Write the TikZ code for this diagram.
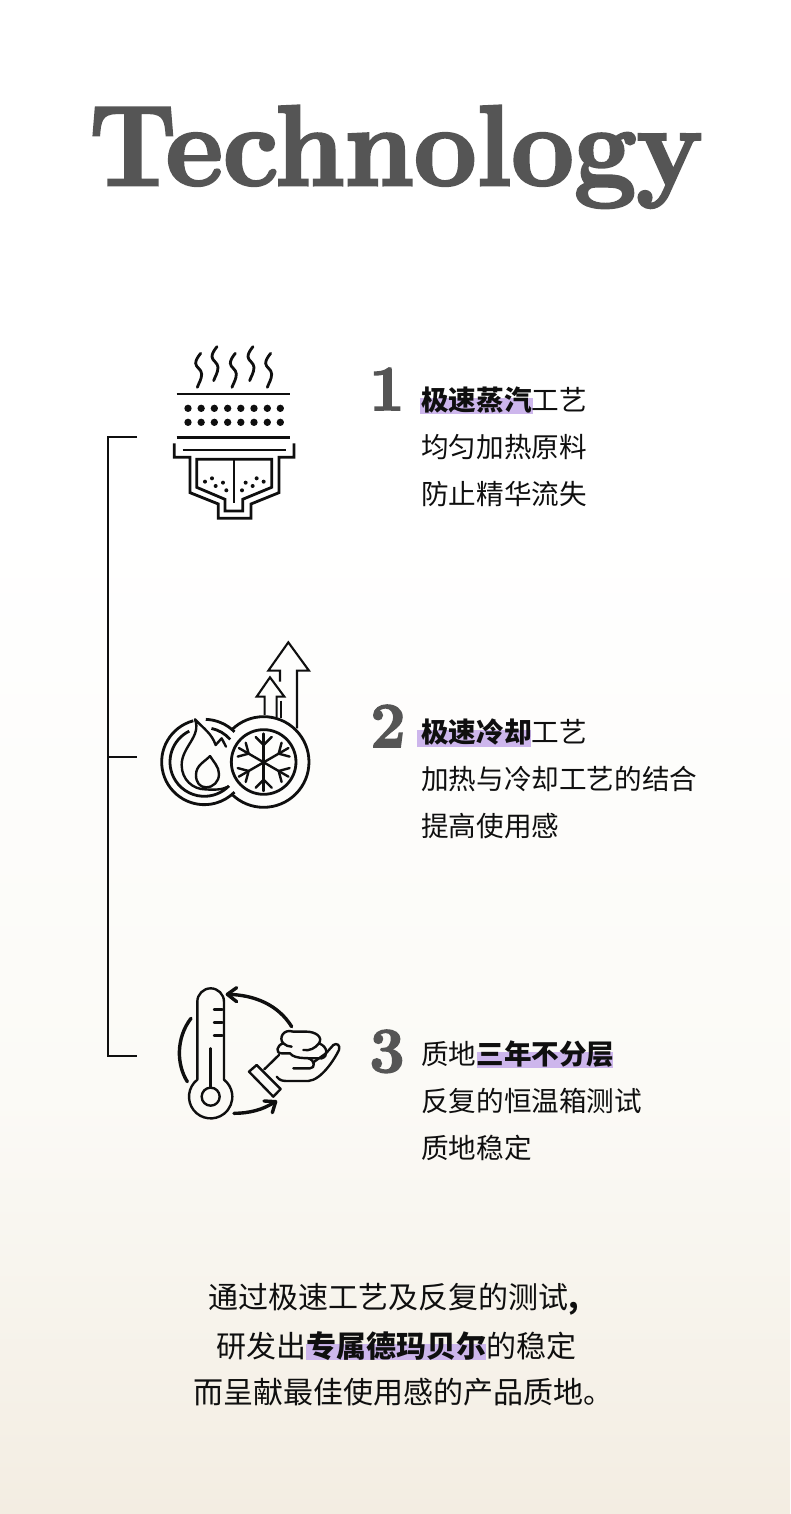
\documentclass[tikz,border=0pt]{standalone}
\usepackage{fontspec}
\usepackage{xcolor}
\setmainfont[BoldFont={Noto Sans CJK SC Black}]{Noto Sans CJK SC}
\newfontfamily\titlefont[FakeBold=2.6, FakeStretch=0.975]{Latin Modern Roman}
\usetikzlibrary{positioning,calc}
\definecolor{hlpurple}{HTML}{CDB6EC}
\definecolor{titlegrey}{HTML}{555555}
\definecolor{inkblack}{HTML}{0F0F0F}
\definecolor{creambot}{HTML}{F3EDE2}
\definecolor{creammid}{HTML}{FBFAF6}
\tikzset{
    txt/.style={inner sep=0pt, font=\fontsize{27.6}{27.6}\selectfont, text=inkblack, text height=24.2pt, text depth=3.3pt, anchor=west},
    txtbelow/.style={txt, below=19pt of #1.south west, anchor=north west},
    endtxt/.style={inner sep=0pt, font=\fontsize{30}{30}\selectfont, text=inkblack, anchor=center},
    numeral/.style={inner sep=0pt, anchor=base, text=titlegrey, font=\titlefont\bfseries\fontsize{64}{64}\selectfont},
    hlbar/.style={fill=hlpurple},
    icon/.style={draw=inkblack, line width=2.8pt, line join=miter},
    thinicon/.style={draw=inkblack, line width=2.4pt, line cap=round, line join=round},
    arrowline/.style={draw=inkblack, line width=3.4pt, line cap=round, line join=round}
}
\begin{document}
\begin{tikzpicture}[x=1pt, y=-1pt]
    \useasboundingbox (0,0) rectangle (790,1514);
    % background
    \fill[white] (0,0) rectangle (790,520);
    \shade[top color=white, bottom color=creammid] (0,520) rectangle (790,1100);
    \shade[top color=creammid, bottom color=creambot] (0,1100) rectangle (790,1514);

    % title
    \node[inner sep=0pt, anchor=base, text=titlegrey, font=\titlefont\bfseries\fontsize{114}{114}\selectfont] (title) at (396,185) {Technology};

    % bracket
    \coordinate (brtop) at (137,437);
    \coordinate (brmid) at (137,757);
    \coordinate (brbot) at (137,1056);
    \draw[line width=2.5pt, inkblack] (brtop) -- (108,437) -- (108,1056) -- (brbot);
    \draw[line width=2.5pt, inkblack] (108,757) -- (brmid);

    % highlights
    \fill[hlbar] (420,398) rectangle (533,414);
    \fill[hlbar] (417,730) rectangle (531,747);
    \fill[hlbar] (477,1052) rectangle (613,1068);
    \fill[hlbar] (306,1344) rectangle (486,1360);

    % numbers
    \node[numeral] (numa) at (387,410) {1};
    \node[numeral] (numb) at (388,747) {2};
    \node[numeral] (numc) at (387,1072) {3};

    % step 1
    \node[txt] (ta) at (421,400) {\textbf{极速蒸汽}工艺};
    \node[txtbelow=ta] (tb) {均匀加热原料};
    \node[txtbelow=tb] (tc) {防止精华流失};
    % step 2
    \node[txt] (td) at (421,732) {\textbf{极速冷却}工艺};
    \node[txtbelow=td] (te) {加热与冷却工艺的结合};
    \node[txtbelow=te] (tf) {提高使用感};
    % step 3
    \node[txt] (tg) at (421,1054) {质地\textbf{三年不分层}};
    \node[txtbelow=tg] (th) {反复的恒温箱测试};
    \node[txtbelow=th] (ti) {质地稳定};

    % closing text
    \node[endtxt] (enda) at (394,1299) {通过极速工艺及反复的测试\textbf{,}};
    \node[endtxt] (endb) at (396,1346) {研发出\textbf{专属德玛贝尔}的稳定};
    \node[endtxt] (endc) at (403,1392) {而呈献最佳使用感的产品质地。};

    % steam icon
    \begin{scope}[shift={(150,330)}, x=0.3333pt, y=-0.3333pt]
        \foreach \sx/\sy in {148/70, 197/50, 252/70, 305/50, 358/70} {
            \draw[inkblack, line width=2.8pt, line cap=round] (\sx+4,\sy) .. controls (\sx-4,\sy+10) and (\sx-11,\sy+20) .. (\sx-11,\sy+30) .. controls (\sx-11,\sy+42) and (\sx+7,\sy+48) .. (\sx+7,\sy+62) .. controls (\sx+7,\sy+78) and (\sx-2,\sy+90) .. (\sx-6,\sy+102);
        }
        \draw[icon] (80,192) -- (420,192);
        \draw[icon] (80,322) -- (420,322);
        \foreach \dx in {114,153.5,193,233,272.5,312,352,391} {
            \fill[inkblack] (\dx,235) circle[radius=11];
            \fill[inkblack] (\dx,277) circle[radius=11];
        }
        \draw[icon] (73,340) -- (73,382) -- (120,382) -- (120,488) -- (205,522) -- (205,565) -- (303,565) -- (303,522) -- (387,488) -- (387,382) -- (432,382) -- (432,340);
        \draw[icon] (98,360) -- (408,360);
        \draw[icon] (140,388) -- (140,472) -- (225,508) -- (225,543) -- (278,543) -- (278,508) -- (365,472) -- (365,388) -- cycle;
        \draw[icon] (252,388) -- (252,518);
        \foreach \dx/\dy in {165/455, 186/445, 197/468, 219/458, 229/481, 341/455, 320/445, 308/468, 287/458, 276/481} {
            \fill[inkblack] (\dx,\dy) circle[radius=6];
        }
    \end{scope}

    % heat and cold icon
    \begin{scope}[shift={(150,630)}, x=0.3333pt, y=-0.3333pt]
        \draw[icon] (341,396) ++(-135:136) arc[start angle=-135, end angle=135, radius=136];
        \draw[icon] (341,396) circle[radius=97];
        \draw[icon] (163,396) ++(255:128) arc[start angle=255, end angle=45, radius=128];
        \draw[icon] (163,396) ++(-88:128) arc[start angle=-88, end angle=-45, radius=128];
        \draw[icon] (163,396) ++(244:103) arc[start angle=244, end angle=44, radius=103];
        \draw[icon] (163,396) ++(-78:103) arc[start angle=-78, end angle=-41, radius=103];
        % flames
        \draw[thinicon] (228,350) -- (215,325) -- (197,345) .. controls (185,310) and (160,295) .. (135,268) .. controls (155,320) and (95,350) .. (95,405) .. controls (95,450) and (130,478) .. (165,478) .. controls (190,480) and (215,480) .. (235,470);
        \draw[thinicon] (180,378) .. controls (165,395) and (138,405) .. (138,435) .. controls (138,458) and (150,472) .. (168,472) .. controls (190,472) and (207,455) .. (207,432) .. controls (207,410) and (190,395) .. (180,378);
        % snowflake
        \foreach \ang in {30,90,150,210,270,330} {
            \draw[thinicon] (341,397) -- ++(\ang:86);
            \draw[thinicon] (341,397) ++(\ang:52) -- ++(\ang+45:34);
            \draw[thinicon] (341,397) ++(\ang:52) -- ++(\ang-45:34);
        }
        % arrows
        \draw[line width=2.1pt, inkblack, line join=miter] (390,155) -- (390,122) -- (355,122) -- (415,37) -- (477,122) -- (441,122) -- (441,295);
        \draw[line width=2.1pt, inkblack, line join=miter] (344,255) -- (344,200) -- (320,200) -- (360,142) -- (403,200) -- (380,200) -- (380,262);
        \draw[line width=2.1pt, inkblack] (392,212) -- (392,265);
    \end{scope}

    % temperature icon
    \begin{scope}[shift={(165,975)}, x=0.3333pt, y=-0.3333pt]
        \draw[thinicon] (177,314) -- (177,80) arc[start angle=0, end angle=-180, radius=40] -- (97,314) arc[start angle=232, end angle=-52, radius=65];
        \draw[thinicon] (137,365) circle[radius=27];
        \draw[thinicon] (137,220) -- (137,338);
        \draw[thinicon] (147,103) -- (172,103);
        \draw[thinicon] (147,143) -- (172,143);
        \draw[thinicon] (147,182) -- (172,182);
        % cycle arrows
        \draw[arrowline] (78,130) .. controls (32,190) and (35,270) .. (67,320);
        \draw[arrowline] (380,155) .. controls (340,90) and (270,60) .. (190,58);
        \draw[arrowline] (215,38) -- (187,58) -- (215,80);
        \draw[arrowline] (207,415) .. controls (250,415) and (295,405) .. (330,380);
        \draw[arrowline] (297,378) -- (332,380) -- (322,413);
        % hand
        \draw[thinicon] (252,290) -- (275,270) -- (347,342) -- (325,365) -- cycle;
        \draw[thinicon] (298,283) -- (342,240);
        \draw[thinicon] (335,305) .. controls (345,318) and (355,318) .. (370,318) -- (430,318) .. controls (470,315) and (510,250) .. (522,225) .. controls (527,210) and (515,203) .. (505,210) -- (483,235);
        \draw[thinicon] (483,235) -- (445,262);
        \draw[thinicon] (385,280) -- (435,280) .. controls (452,280) and (450,255) .. (430,250);
        % cream
        \draw[thinicon] (385,170) .. controls (355,160) and (340,190) .. (355,205) .. controls (335,210) and (330,235) .. (350,235) -- (375,235) .. controls (390,255) and (440,248) .. (470,250) .. controls (490,245) and (490,215) .. (462,205) .. controls (475,185) and (450,170) .. (425,170) -- (385,170);
        \draw[thinicon] (355,205) .. controls (362,212) and (370,214) .. (380,215);
        \draw[thinicon] (415,225) .. controls (435,228) and (450,220) .. (462,205);
    \end{scope}
\end{tikzpicture}
\end{document}
